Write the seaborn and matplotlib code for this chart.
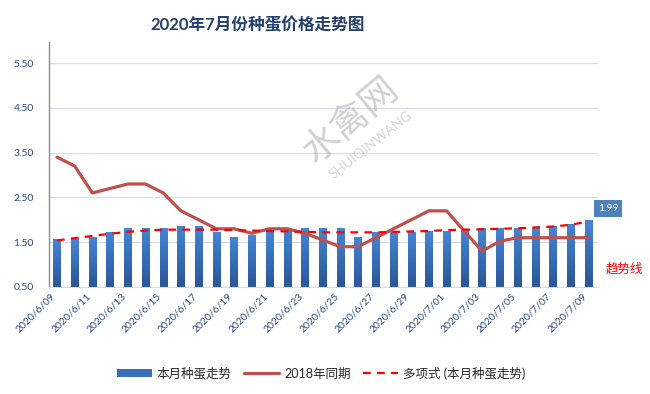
import numpy as np
import pandas as pd
import matplotlib
matplotlib.use("Agg")
import matplotlib.pyplot as plt
import matplotlib.transforms as mtransforms
from matplotlib.colors import LinearSegmentedColormap
from matplotlib.patches import Patch
from matplotlib.lines import Line2D
import seaborn as sns

# 2020/6/09 .. 2020/7/09
dates = [f"{d.year}/{d.month}/{d.day:02d}" for d in pd.date_range("2020-06-09", "2020-07-09")]

price_2020 = [1.56, 1.56, 1.60, 1.71, 1.80, 1.80, 1.80, 1.86, 1.86, 1.71,
              1.60, 1.66, 1.75, 1.78, 1.80, 1.80, 1.80, 1.60, 1.71, 1.73,
              1.71, 1.75, 1.75, 1.77, 1.80, 1.80, 1.80, 1.80, 1.86, 1.90, 1.99]
price_2018 = [3.40, 3.20, 2.60, 2.70, 2.80, 2.80, 2.60, 2.20, 2.00, 1.80,
              1.80, 1.70, 1.80, 1.80, 1.70, 1.55, 1.40, 1.40, 1.60, 1.80,
              2.00, 2.20, 2.20, 1.75, 1.30, 1.52, 1.60, 1.60, 1.60, 1.60, 1.60]
trend = [1.54, 1.59, 1.64, 1.69, 1.73, 1.76, 1.78, 1.78, 1.78, 1.78,
         1.77, 1.76, 1.75, 1.74, 1.73, 1.72, 1.72, 1.72, 1.72, 1.73,
         1.74, 1.75, 1.77, 1.78, 1.79, 1.80, 1.81, 1.83, 1.85, 1.89, 1.96]
y_ticks = [0.5, 1.5, 2.5, 3.5, 4.5, 5.5]

sns.set_style("white")
plt.rcParams["font.family"] = ["Lato", "Noto Sans CJK SC", "DejaVu Sans"]

days = np.arange(len(dates))
tick_col = "#2A4B82"

fig = plt.figure(figsize=(6.5, 3.94), dpi=100)
ax = fig.add_axes([49 / 650, 1 - 287 / 394, (598 - 49) / 650, (287 - 42) / 394])

sns.barplot(x=days, y=price_2020, color="#3A70B8", width=0.41, ax=ax, zorder=2)

# vertical gradient on the bars
cmap = LinearSegmentedColormap.from_list("bar", ["#2A5797", "#4485D5"])
grad = np.linspace(0, 1, 64).reshape(-1, 1)
for bar in ax.patches:
    x0, w, h = bar.get_x(), bar.get_width(), bar.get_height()
    ax.imshow(grad, extent=[x0, x0 + w, 0.5, h], origin="lower", aspect="auto",
              cmap=cmap, zorder=2.1)
    bar.set_facecolor("none")
    bar.set_edgecolor("none")

sns.lineplot(x=days, y=price_2018, color="#C0504D", linewidth=2.3, ax=ax, zorder=3)
sns.lineplot(x=days, y=trend, color="#FF0000", linewidth=1.6, ax=ax, zorder=4,
             dashes=False)
ax.lines[-1].set_dashes((3.5, 2.8))

ax.set_xlim(-0.45, 30.55)
ax.set_ylim(0.5, 5.97)
ax.set_yticks(y_ticks)
ax.set_yticklabels([f"{v:.2f}" for v in y_ticks])
ax.set_xticks(days[::2])
ax.set_xticklabels(dates[::2], rotation=45, ha="right", va="top")
shift = mtransforms.ScaledTranslation(-9 / 100, -5 / 100, fig.dpi_scale_trans)
for lab in ax.get_xticklabels():
    lab.set_transform(lab.get_transform() + shift)
ax.tick_params(axis="both", length=0, labelsize=7.5, labelcolor=tick_col)
ax.tick_params(axis="y", pad=11)
ax.set_xlabel("")
ax.set_ylabel("")

ax.yaxis.grid(True, color="#D6DFEE", linewidth=0.9)
ax.set_axisbelow(True)
for side in ["top", "right"]:
    ax.spines[side].set_visible(False)
ax.spines["bottom"].set_color("#D6DFEE")
ax.spines["left"].set_color("#8C8C8C")
ax.spines["left"].set_linewidth(1.0)

ax.annotate("1.99", xy=(days[-1], price_2020[-1]), xytext=(20, 12),
            textcoords="offset pixels", ha="center", va="center",
            color="white", fontsize=7.5, zorder=6, annotation_clip=False,
            bbox=dict(boxstyle="square,pad=0.38", fc="#4F81BD", ec="none"))

fig.text(624 / 650, 1 - 268 / 394, "趋势线", color="#FF0000", fontsize=9,
         ha="center", va="center")

fig.text(258 / 650, 1 - 25 / 394, "2020年7月份种蛋价格走势图", fontsize=12,
         fontweight="bold", color="#24406E", ha="center", va="center")

# watermark
fig.text(351 / 650, 1 - 120 / 394, "水禽网", fontsize=27, rotation=40,
         color="#9A9A9A", alpha=0.45, ha="center", va="center",
         family=["Noto Sans CJK SC"])
fig.text(371 / 650, 1 - 145 / 394, "SHUIQINWANG", fontsize=10, rotation=38,
         color="#9A9A9A", alpha=0.4, ha="center", va="center")

handles = [
    Patch(facecolor="#3A70B8", edgecolor="none"),
    Line2D([], [], color="#C0504D", linewidth=2.3),
    Line2D([], [], color="#FF0000", linewidth=1.6, dashes=(3.5, 2.8)),
]
labels = ["本月种蛋走势", "2018年同期", "多项式 (本月种蛋走势)"]
fig.legend(handles, labels, loc="center", bbox_to_anchor=(321 / 650, 1 - 373 / 394),
           ncol=3, frameon=False, fontsize=9, handlelength=2.8, handleheight=0.55,
           columnspacing=1.0, handletextpad=0.4)

fig.savefig("out.png", dpi=100)
